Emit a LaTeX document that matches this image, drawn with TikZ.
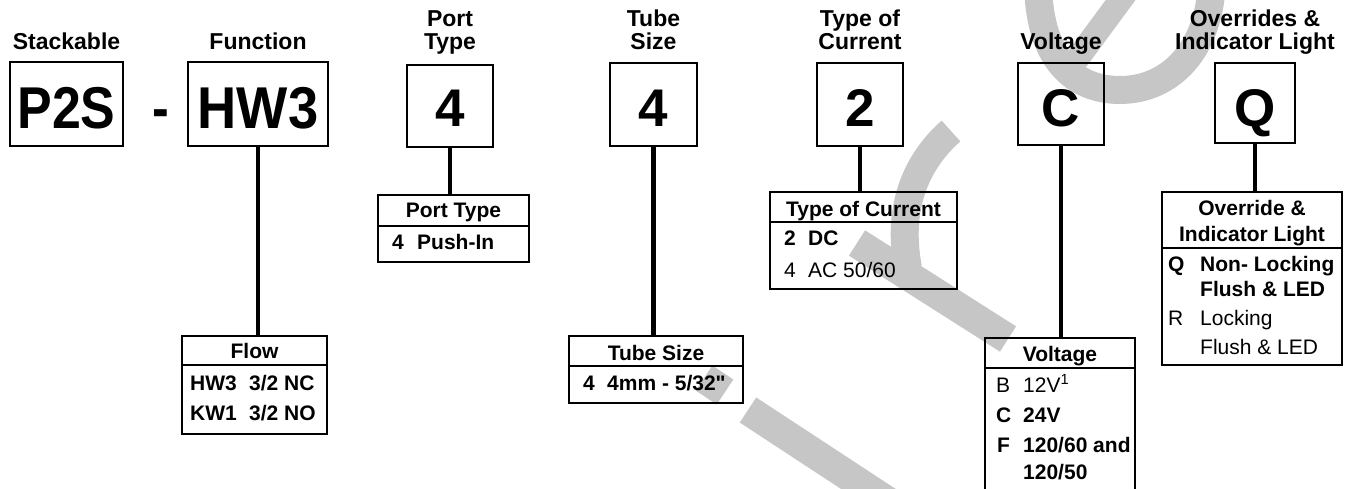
\documentclass[tikz,border=0pt]{standalone}
\usepackage{fontspec}
\setmainfont{Liberation Sans}
\newfontfamily\quotefont{Liberation Sans}[Ligatures=TeXOff]
\definecolor{wmgrey}{RGB}{198,198,198}
\begin{document}
\begin{tikzpicture}[x=1pt,y=-1pt,
  wm/.style={draw=wmgrey, line width=28pt, line cap=butt},
  bigbox/.style={draw=black, line width=2.2pt, inner sep=0pt},
  bigtxt/.style={font=\fontsize{59}{59}\selectfont\bfseries, inner sep=0pt, anchor=base},
  onetxt/.style={font=\fontsize{53}{53}\selectfont\bfseries, inner sep=0pt, anchor=base},
  toplabel/.style={font=\fontsize{23}{23}\selectfont\bfseries, inner sep=0pt, anchor=base, align=center},
  tab/.style={draw=black, line width=2.2pt, inner sep=0pt},
  sepline/.style={line width=2.2pt},
  conn/.style={line width=4.4pt},
  head/.style={font=\fontsize{21}{21}\selectfont\bfseries, inner sep=0pt, anchor=base, align=center},
  codeb/.style={font=\fontsize{21}{21}\selectfont\bfseries, inner sep=0pt, anchor=base west},
  coder/.style={font=\fontsize{21}{21}\selectfont, inner sep=0pt, anchor=base west}]
\useasboundingbox (0,0) rectangle (1353,489);
\clip (0,0) rectangle (1353,489);
% watermark
\draw[wm] (1038,-20) .. controls (1038,60) and (1075,90) .. (1120,90) .. controls (1170,90) and (1210,50) .. (1212,-20);
\draw[wm, line width=24pt] (1128,-10) -- (1066,74);
\draw[wm] (951,131) .. controls (918,160) and (896,205) .. (908,268);
\draw[wm, line width=30pt] (857,243) -- (1008,339);
\draw[wm, line width=30pt] (704,378) -- (725,392);
\draw[wm, line width=30pt] (748,410) -- (905,513);
% top labels
\node[toplabel] (l1) at (66.5,50) {Stackable};
\node[toplabel] (l2) at (258,50) {Function};
\node[toplabel] (l3) at (450,50) {Port\\Type};
\node[toplabel] (l4) at (653.5,50) {Tube\\Size};
\node[toplabel] (l5) at (860,50) {Type of\\Current};
\node[toplabel] (l6) at (1061,50) {Voltage};
\node[toplabel] (l7) at (1255,50) {Overrides \&\\Indicator Light};
% code boxes
\node[bigbox, minimum width=113pt, minimum height=84pt] (p2s) at (66.5,104) {};
\node[bigbox, minimum width=140pt, minimum height=84pt] (hw3) at (258,104) {};
\node[bigbox, minimum width=86pt, minimum height=82pt] (port) at (450,106) {};
\node[bigbox, minimum width=87pt, minimum height=83pt] (tube) at (653.5,104.5) {};
\node[bigbox, minimum width=86pt, minimum height=83pt] (cur) at (860,104.5) {};
\node[bigbox, minimum width=86pt, minimum height=82pt] (volt) at (1061,104) {};
\node[bigbox, minimum width=80pt, minimum height=80pt] (ovr) at (1255,103) {};
\node[bigtxt] (t1) at (66.5,129) {\scalebox{0.88}[1]{P2S}};
\node[bigtxt] (dash) at (161,129) {\scalebox{0.85}[1]{-}};
\node[bigtxt] (t2) at (258,129) {\scalebox{0.92}[1]{HW3}};
\node[onetxt] (t3) at (450,127) {4};
\node[onetxt] (t4) at (653.5,127) {4};
\node[onetxt] (t5) at (860,127) {2};
\node[onetxt] (t6) at (1061,127) {C};
\node[onetxt] (t7) at (1255,127) {Q};
% tables
\node[tab, minimum width=145pt, minimum height=98pt] (flow) at (254.5,385) {};
\node[tab, minimum width=151pt, minimum height=67pt] (ptab) at (453.5,228.5) {};
\node[tab, minimum width=174pt, minimum height=67pt] (ttab) at (656,369.5) {};
\node[tab, minimum width=187pt, minimum height=97pt] (ctab) at (863.5,240.5) {};
\node[tab, minimum width=150pt, minimum height=162pt] (vtab) at (1060,419) {};
\node[tab, minimum width=180pt, minimum height=173pt] (otab) at (1252,278.5) {};
% separators
\draw[sepline] (flow.west |- 0,365) -- (flow.east |- 0,365);
\draw[sepline] (ptab.west |- 0,226) -- (ptab.east |- 0,226);
\draw[sepline] (ttab.west |- 0,366) -- (ttab.east |- 0,366);
\draw[sepline] (ctab.west |- 0,222) -- (ctab.east |- 0,222);
\draw[sepline] (vtab.west |- 0,368) -- (vtab.east |- 0,368);
\draw[sepline] (otab.west |- 0,248) -- (otab.east |- 0,248);
% connectors
\draw[conn] (hw3.south) -- (hw3.south |- flow.north);
\draw[conn] (port.south) -- (port.south |- ptab.north);
\draw[conn] (tube.south) -- (tube.south |- ttab.north);
\draw[conn] (cur.south) -- (cur.south |- ctab.north);
\draw[conn] (volt.south) -- (volt.south |- vtab.north);
\draw[conn] (ovr.south) -- (ovr.south |- otab.north);
% flow table text
\node[head] (fh) at (254.5,359) {Flow};
\node[codeb] (f1a) at (190,390) {HW3};
\node[codeb] (f1b) at (249,390) {3/2 NC};
\node[codeb] (f2a) at (190,420) {KW1};
\node[codeb] (f2b) at (249,420) {3/2 NO};
% port table text
\node[head] (ph) at (453.5,218) {Port Type};
\node[codeb] (p1a) at (392,250) {4};
\node[codeb] (p1b) at (417,250) {Push-In};
% tube table text
\node[head] (th) at (656,360) {Tube Size};
\node[codeb] (u1a) at (583,390) {4};
\node[codeb] (u1b) at (607,390) {4mm - 5/32{\quotefont\bfseries "}};
% current table text
\node[head] (ch) at (863.5,217) {Type of Current};
\node[codeb] (c1a) at (784,246) {2};
\node[codeb] (c1b) at (808,246) {DC};
\node[coder] (c2a) at (784,278) {4};
\node[coder] (c2b) at (808,278) {AC 50/60};
% voltage table text
\node[head] (vh) at (1060,361) {Voltage};
\node[coder] (v1a) at (996,392) {B};
\node[coder] (v1b) at (1023,392) {12V\textsuperscript{1}};
\node[codeb] (v2a) at (996,422) {C};
\node[codeb] (v2b) at (1023,422) {24V};
\node[codeb] (v3a) at (997,452) {F};
\node[codeb] (v3b) at (1023,452) {120/60 and};
\node[codeb] (v3c) at (1023,479) {120/50};
% override table text
\node[head] (oh1) at (1252,216) {Override \&};
\node[head] (oh2) at (1252,242) {Indicator Light};
\node[codeb] (o1a) at (1168,272) {Q};
\node[codeb] (o1b) at (1200,272) {Non- Locking};
\node[codeb] (o1c) at (1200,297) {Flush \& LED};
\node[coder] (o2a) at (1168,326) {R};
\node[coder] (o2b) at (1200,326) {Locking};
\node[coder] (o2c) at (1200,354) {Flush \& LED};
\end{tikzpicture}
\end{document}
